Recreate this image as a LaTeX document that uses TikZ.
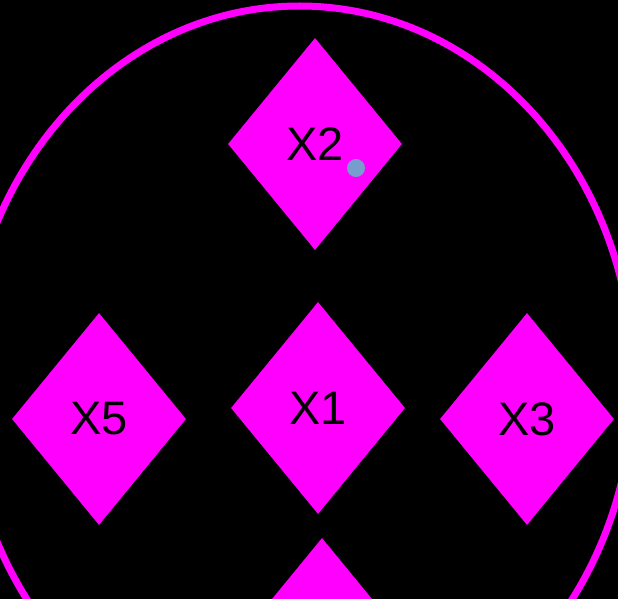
\documentclass[tikz,border=0pt]{standalone}
\usepackage{fontspec}
\setmainfont{Liberation Sans}
\usepackage{tikz}
\usetikzlibrary{positioning, shapes.geometric}

\definecolor{vmagenta}{RGB}{255,0,255}
\definecolor{dotblue}{RGB}{120,156,206}

\begin{document}
\begin{tikzpicture}[x=1pt, y=-1pt,
                varnode/.style={diamond, fill=vmagenta, draw=none, inner sep=0pt, minimum width=174pt, minimum height=212pt, font=\fontsize{47}{56}\selectfont, text=black},
                ring/.style={draw=vmagenta, line width=7pt},
                marker/.style={circle, fill=dotblue, draw=none, inner sep=0pt, minimum size=18pt}
            ]

            % Hintergrund
            \fill[black] (0,0) rectangle (618,599);
            \useasboundingbox (0,0) rectangle (618,599);

            % Rahmen
            \draw[ring] (299.5,382) ellipse [x radius=334pt, y radius=376pt];

            % Knoten
            \node[varnode] (x2) at (315,144) {X2};
            \node[varnode] (x1) at (318,408) {X1};
            \node[varnode] (x5) at (99,419) {X5};
            \node[varnode] (x3) at (527,419) {X3};
            \node[varnode] (x4) at (322,644) {};

            \node[marker] (dot) at (356,168) {};

        \end{tikzpicture}
\end{document}
